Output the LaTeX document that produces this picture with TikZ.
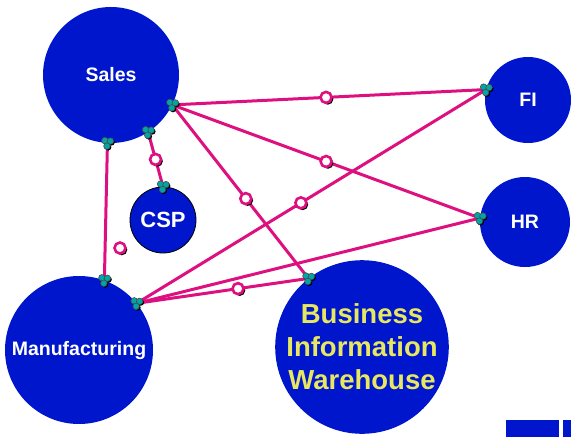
\documentclass[tikz,border=0pt]{standalone}
\usepackage{fontspec}
\setmainfont{Liberation Sans}
\usetikzlibrary{calc,shadows}
\definecolor{sysblue}{RGB}{0,22,204}
\definecolor{linkpink}{RGB}{222,16,128}
\definecolor{plugteal}{RGB}{0,166,166}
\definecolor{biwyellow}{RGB}{232,232,96}
\tikzset{
  system/.style={circle,fill=sysblue,text=white,inner sep=0pt,
    font=\bfseries\fontsize{19.5}{21}\selectfont},
  link/.style={draw=linkpink,line width=3pt},
  marker/.style={circle,draw=linkpink,fill=white,line width=2.6pt,
    minimum size=11pt,inner sep=0pt,
    drop shadow={shadow xshift=1.8pt,shadow yshift=-1.8pt,opacity=1,fill=black}},
  plugdot/.style={circle,fill=plugteal,draw=black!70,line width=.6pt,
    minimum size=6.5pt,inner sep=0pt,
    drop shadow={shadow xshift=1.2pt,shadow yshift=-1.2pt,opacity=1,fill=black}},
}
\newcommand\plug[1]{%
  \foreach \dx/\dy in {-2.5/-2.5,3/-2,-.5/3}
    \node[plugdot,shift={(\dx,\dy)}] at (#1) {};}
\begin{document}
\begin{tikzpicture}[x=1pt,y=-1pt]
  \useasboundingbox (0,0) rectangle (571,437);
  % systems
  \node[system,minimum size=136] (sales) at (111,75) {Sales};
  \node[system,minimum size=66,draw=black,line width=.8pt,
    font=\bfseries\fontsize{22}{24}\selectfont] (csp) at (163,220) {CSP};
  \node[system,minimum size=86] (fi) at (528,100) {FI};
  \node[system,minimum size=90] (hr) at (525,222) {HR};
  \node[system,minimum size=148] (manu) at (79,350) {Manufacturing};
  \node[system,minimum size=170,text=biwyellow,align=center,
    font=\bfseries\fontsize{27.5}{33}\selectfont] (biw) at (362,347)
    {Business\\Information\\Warehouse};
  % corner bar
  \fill[sysblue] (506,420) rectangle (559,437);
  \fill[sysblue] (563,420) rectangle (571,437);
  % end points
  \coordinate (sA) at (sales.-26);
  \coordinate (sB) at (sales.-57);
  \coordinate (sC) at (sales.-93);
  \coordinate (mD) at (manu.39);
  \coordinate (mE) at (manu.70);
  \coordinate (fiA) at (fi.166);
  \coordinate (hrA) at (hr.175);
  \coordinate (biwA) at (biw.128);
  \coordinate (cspA) at (csp.90);
  % links
  \draw[link] (sA) -- node[marker,pos=.49]{} (fiA);
  \draw[link] (sA) -- node[marker,pos=.5]{} (hrA);
  \draw[link] (sA) -- node[marker,pos=.54]{} (biwA);
  \draw[link] (sB) -- node[marker,pos=.5]{} (cspA);
  \draw[link] (sC) -- (mE);
  \draw[link] (mD) -- node[marker,pos=.47]{} (fiA);
  \draw[link] (mD) -- (hrA);
  \draw[link] (mD) -- node[marker,pos=.59]{} (biwA);
  \node[marker] (stray) at (120,248) {};
  % plugs
  \foreach \p in {sA,sB,sC,mD,mE,fiA,hrA,biwA,cspA}
    \plug{\p};
\end{tikzpicture}
\end{document}
